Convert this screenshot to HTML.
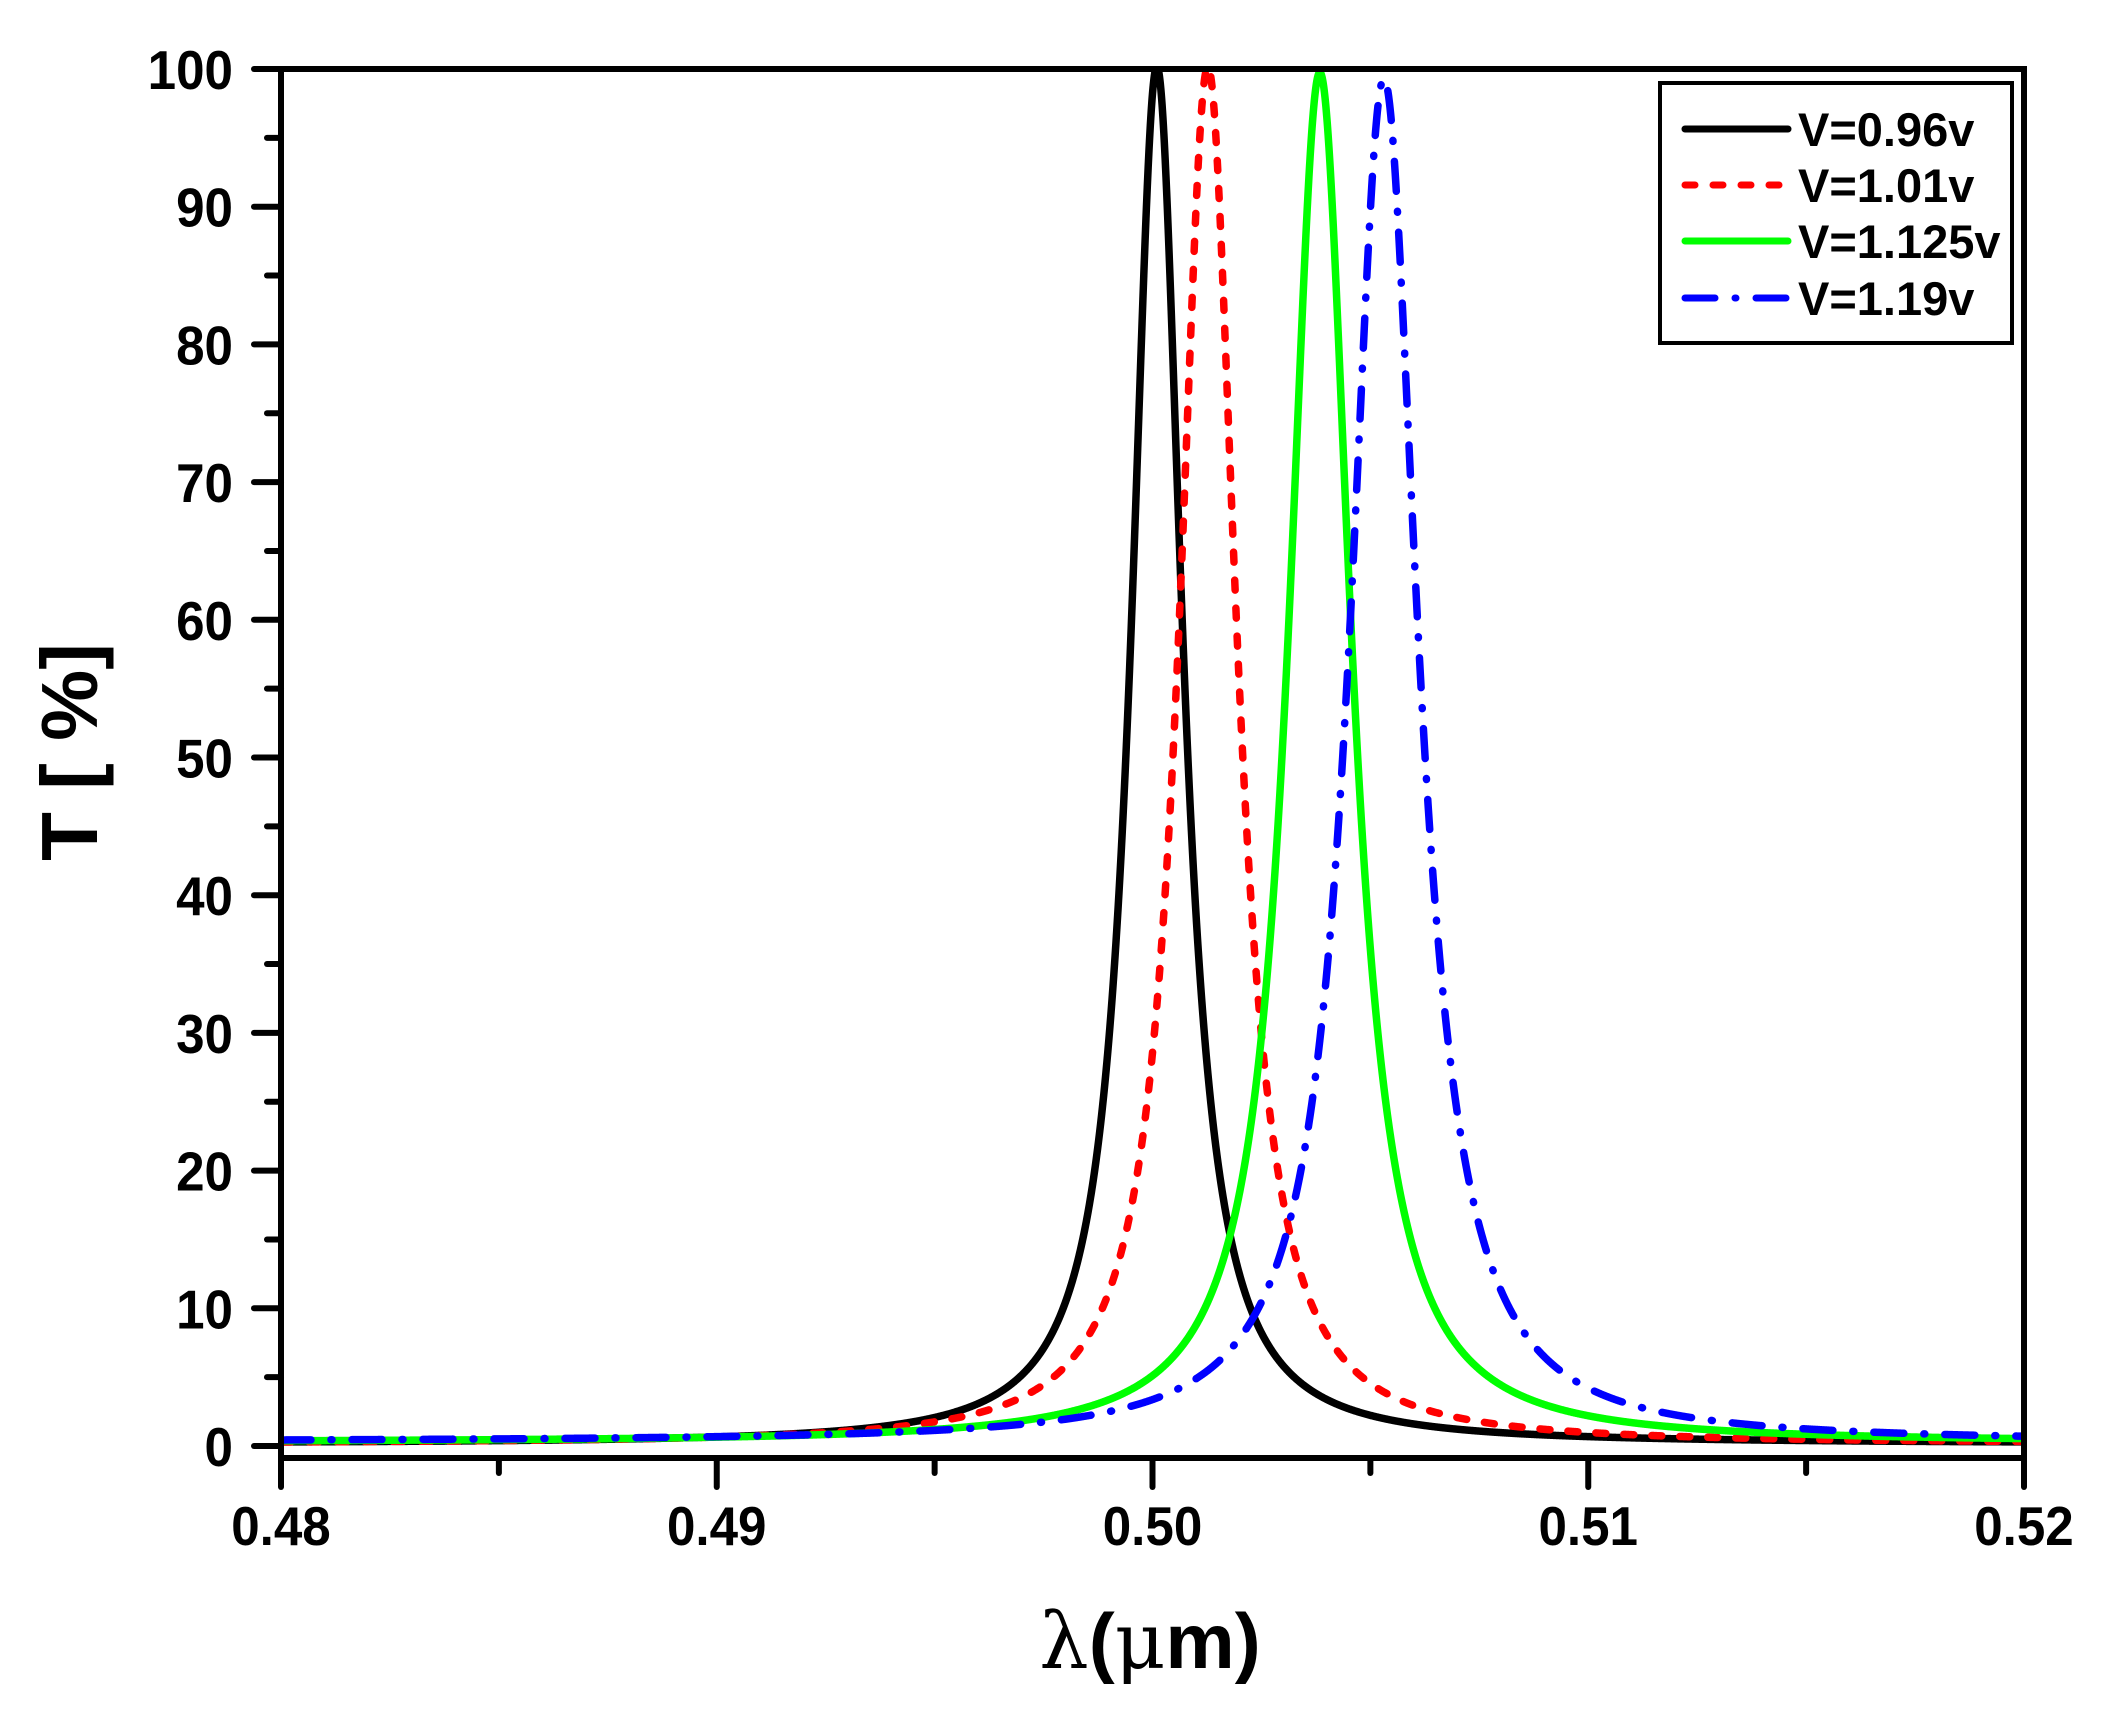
<!DOCTYPE html>
<html><head><meta charset="utf-8"><style>
html,body{margin:0;padding:0;background:#fff;}
svg{display:block;}
text{font-family:"Liberation Sans",Arial,sans-serif;font-weight:bold;fill:#000;}
</style></head><body>
<svg id="s" width="2112" height="1712" viewBox="0 0 2112 1712" xmlns="http://www.w3.org/2000/svg">
<defs><clipPath id="c"><rect x="281" y="66" width="1743" height="1392"/></clipPath></defs>
<g id="curves" clip-path="url(#c)"></g>
<g id="axes" stroke="#000" stroke-width="6" fill="none" stroke-linecap="round"></g>
<g id="labels"></g>
<!-- legend -->
<rect x="1660" y="83" width="352" height="260" fill="#fff" stroke="#000" stroke-width="4"/>
<line x1="1685" y1="129" x2="1788" y2="129" stroke="#000" stroke-width="7" stroke-linecap="round"/>
<line x1="1685" y1="185" x2="1780" y2="185" stroke="#f00" stroke-width="7" stroke-linecap="round" stroke-dasharray="10 18"/>
<line x1="1685" y1="241" x2="1788" y2="241" stroke="#0f0" stroke-width="7" stroke-linecap="round"/>
<line x1="1685" y1="298" x2="1788" y2="298" stroke="#00f" stroke-width="7" stroke-linecap="round" stroke-dasharray="30 20 1 20"/>
<text x="1798" y="146" font-size="47">V=0.96v</text>
<text x="1798" y="202" font-size="47">V=1.01v</text>
<text x="1798" y="258" font-size="47">V=1.125v</text>
<text x="1798" y="315" font-size="47">V=1.19v</text>
<text transform="translate(97,752) rotate(-90)" text-anchor="middle" font-size="80">T [ %]</text>
<text x="1150" y="1668" text-anchor="middle" font-size="78"><tspan font-family="'DejaVu Serif',serif" font-weight="normal">λ</tspan>(<tspan font-family="'DejaVu Serif',serif" font-weight="normal">μ</tspan>m)</text>
</svg>
<script>
var L=281,R=2024,T=69,B=1458,Y0=1446,SY=13.77;
function X(l){return L+(l-0.48)/0.04*(R-L);}
function Y(t){return Y0-t*SY;}
var ns="http://www.w3.org/2000/svg";
function el(p,tag,a,txt){var e=document.createElementNS(ns,tag);for(var k in a)e.setAttribute(k,a[k]);if(txt!=null)e.textContent=txt;p.appendChild(e);return e;}
var ax=document.getElementById('axes'),lb=document.getElementById('labels'),cv=document.getElementById('curves');
el(ax,'rect',{x:L,y:T,width:R-L,height:B-T,'stroke-linecap':'butt'});
for(var v=0;v<=100;v+=5){var y=Y(v);var maj=v%10==0;
 el(ax,'line',{x1:L,y1:y,x2:L-(maj?27:14),y2:y});
 if(maj)el(lb,'text',{x:233,y:y+20,'text-anchor':'end','font-size':55,transform:'translate(233,0) scale(0.93,1) translate(-233,0)'},String(v));}
for(var i=0;i<=8;i++){var x=L+i*(R-L)/8;var maj=i%2==0;
 el(ax,'line',{x1:x,y1:B,x2:x,y2:B+(maj?29:15)});
 if(maj)el(lb,'text',{x:x,y:1545,'text-anchor':'middle','font-size':55,transform:'translate('+x+',0) scale(0.93,1) translate('+(-x)+',0)'},(0.48+i*0.005).toFixed(2));}
var S=[
 {l0:0.50010,g:0.00071,A:100,b:0.17,c:'#000',d:''},
 {l0:0.50127,g:0.00080,A:100,b:0.15,c:'#f00',d:'10 18'},
 {l0:0.50384,g:0.00087,A:99.5,b:0.25,c:'#0f0',d:''},
 {l0:0.50531,g:0.00095,A:99,b:0.30,c:'#00f',d:'30 20 1 20'}];
S.forEach(function(s){var p='';for(var k=0;k<=4000;k++){var l=0.48+k*0.00001;var u=(l-s.l0)/s.g;var t=s.b+s.A/(1+u*u);
 p+=(k?'L':'M')+X(l).toFixed(2)+' '+Y(t).toFixed(2);}
 var a={d:p,fill:'none',stroke:s.c,'stroke-width':7.5,'stroke-linecap':'round','stroke-linejoin':'round'};if(s.d)a['stroke-dasharray']=s.d;el(cv,'path',a);});
</script>
</body></html>
